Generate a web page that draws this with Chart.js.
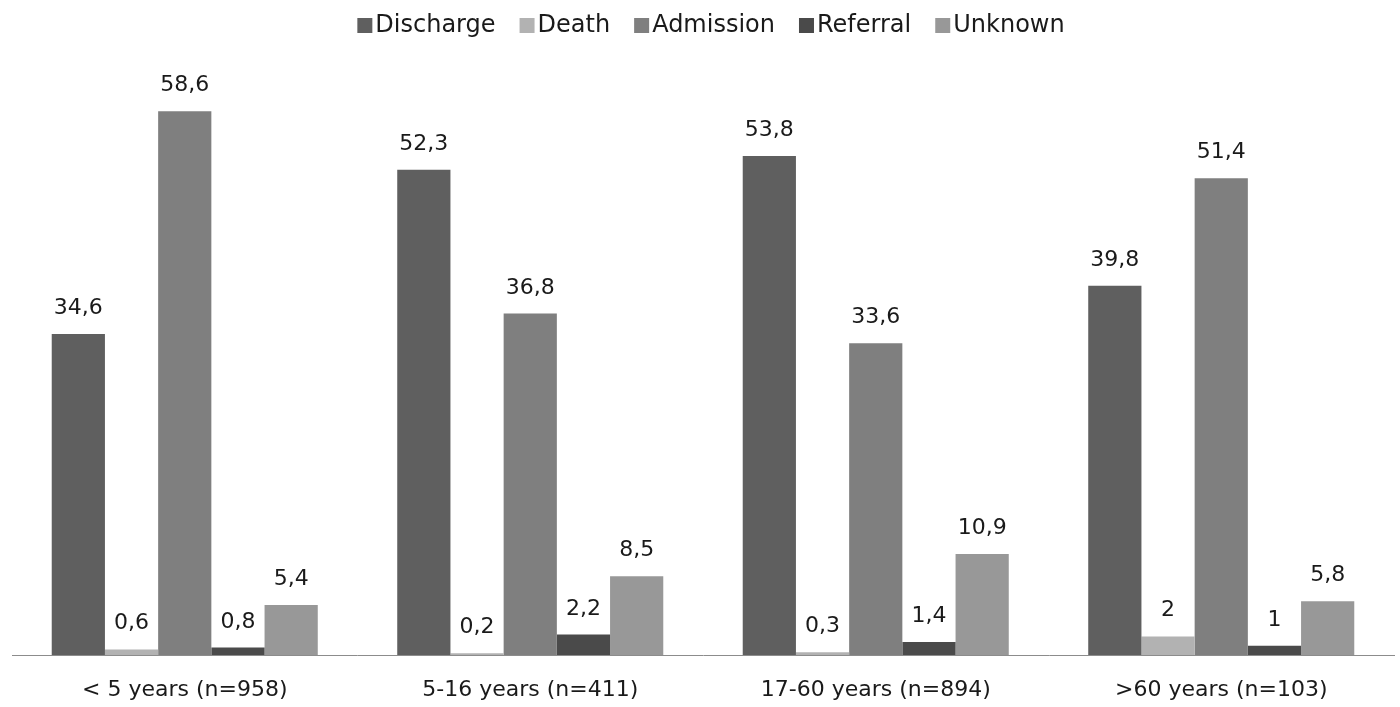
<!DOCTYPE html>
<html>
<head>
<meta charset="utf-8">
<script src="https://cdn.jsdelivr.net/npm/chart.js@4"></script>
<style>
html,body{margin:0;padding:0;background:#fff;}
#wrap{width:1400px;height:707px;}
</style>
</head>
<body>
<div id="wrap"><canvas id="c" width="1400" height="707"></canvas></div>
<script>
const categories = ["< 5 years (n=958)", "5-16 years (n=411)", "17-60 years (n=894)", ">60 years (n=103)"];
const seriesNames = ["Discharge", "Death", "Admission", "Referral", "Unknown"];
const discharge = [34.6, 52.3, 53.8, 39.8];
const death = [0.6, 0.2, 0.3, 2];
const admission = [58.6, 36.8, 33.6, 51.4];
const referral = [0.8, 2.2, 1.4, 1];
const unknown = [5.4, 8.5, 10.9, 5.8];
const colors = ["#5f5f5f", "#b2b2b2", "#7f7f7f", "#4a4a4a", "#989898"];
const values = [discharge, death, admission, referral, unknown];

const FONT = "'DejaVu Sans', Verdana, sans-serif";
const FS = 22;
const LEGEND_FS = 24;

const labelPlugin = {
  id: 'barLabels',
  afterDatasetsDraw(chart) {
    const ctx = chart.ctx;
    ctx.save();
    ctx.font = FS + "px " + FONT;
    ctx.fillStyle = "#1a1a1a";
    ctx.textAlign = "center";
    ctx.textBaseline = "alphabetic";
    chart.data.datasets.forEach((ds, i) => {
      const meta = chart.getDatasetMeta(i);
      meta.data.forEach((bar, j) => {
        const v = ds.data[j];
        ctx.fillText(String(v).replace('.', ','), bar.x, bar.y - 20);
      });
    });
    ctx.restore();
  }
};

const legendPlugin = {
  id: 'customLegend',
  afterDraw(chart) {
    const ctx = chart.ctx;
    ctx.save();
    ctx.font = LEGEND_FS + "px " + FONT;
    const box = 15, gapBox = 3, gapItem = 24;
    const items = chart.data.datasets.map(ds => ({ t: ds.label, c: ds.backgroundColor, w: ctx.measureText(ds.label).width }));
    let total = items.reduce((s, it) => s + box + gapBox + it.w, 0) + gapItem * (items.length - 1);
    let x = 711 - total / 2;
    const cy = 25;
    ctx.textBaseline = "middle";
    ctx.textAlign = "left";
    items.forEach(it => {
      ctx.fillStyle = it.c;
      ctx.fillRect(x, cy - 7, box, box);
      x += box + gapBox;
      ctx.fillStyle = "#1a1a1a";
      ctx.fillText(it.t, x, cy + 1);
      x += it.w + gapItem;
    });
    ctx.restore();
  }
};

new Chart(document.getElementById('c'), {
  type: 'bar',
  data: {
    labels: categories,
    datasets: seriesNames.map((n, i) => ({
      label: n,
      data: values[i],
      backgroundColor: colors[i],
      borderWidth: 0,
      categoryPercentage: 0.77,
      barPercentage: 1.0
    }))
  },
  options: {
    responsive: false,
    animation: false,
    devicePixelRatio: 1,
    layout: { padding: { left: 12, right: 6, top: 52, bottom: 0 } },
    plugins: {
      legend: { display: false },
      tooltip: { enabled: false }
    },
    scales: {
      x: {
        grid: { display: false, drawTicks: false },
        border: { display: true, color: '#8c8c8c', width: 1 },
        ticks: { font: { family: FONT, size: FS }, color: '#1a1a1a', padding: 22 },
        afterFit: (s) => { s.height = 52; }
      },
      y: {
        display: false,
        min: 0,
        max: 65
      }
    }
  },
  plugins: [labelPlugin, legendPlugin]
});
</script>
</body>
</html>
